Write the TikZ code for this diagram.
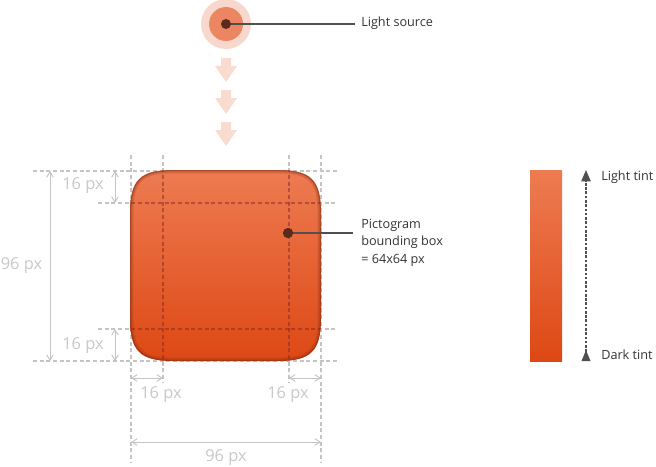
\documentclass[tikz,border=0pt]{standalone}
\usepackage{fontspec}
\setmainfont{Open Sans}
\usetikzlibrary{arrows.meta}
\definecolor{guide}{HTML}{C4C4C4}
\definecolor{dimtext}{HTML}{C8C8C8}
\definecolor{labtext}{HTML}{333333}
\definecolor{leader}{HTML}{505050}
\definecolor{pinkpale}{HTML}{F8D7CC}
\definecolor{pinkarrow}{HTML}{F9DBD0}
\definecolor{srcorange}{HTML}{EC8561}
\definecolor{dotbrown}{HTML}{5A2A1C}
\definecolor{lighttint}{HTML}{EE7B52}
\definecolor{darktint}{HTML}{DD4814}
\definecolor{edgebrown}{HTML}{7A2A10}
\definecolor{innerline}{HTML}{7E2A2A}
\begin{document}
\begin{tikzpicture}[x=0.75pt,y=-0.75pt,
  guideline/.style={draw=guide,line width=0.9pt,dash pattern=on 3pt off 2pt},
  innerguide/.style={draw=innerline,line width=0.9pt,dash pattern=on 3pt off 2pt,opacity=0.5},
  dimline/.style={draw=guide,line width=0.7pt,{Straight Barb[length=4pt,width=5pt]}-{Straight Barb[length=4pt,width=5pt]}},
  dimlabel/.style={text=dimtext,font=\fontsize{12.3}{14}\selectfont,inner sep=0pt},
  label/.style={text=labtext,font=\fontsize{9.5}{13}\selectfont,inner sep=0pt,align=left},
  leaderline/.style={draw=leader,line width=1.1pt},
  dot/.style={circle,fill=dotbrown,minimum size=7.5pt,inner sep=0pt},
  downarrow/.style={fill=pinkarrow}
]
\useasboundingbox (0,0) rectangle (656,467);
\def\iconpath{(173,170) -- (278,170) .. controls (311,170) and (321,180) .. (321,213) -- (321,318) .. controls (321,351) and (311,361) .. (278,361) -- (173,361) .. controls (140,361) and (130,351) .. (130,318) -- (130,213) .. controls (130,180) and (140,170) .. (173,170) -- cycle}

% guide lines
\draw[guideline] (33,171) -- (337,171);
\draw[guideline] (98,203) -- (337,203);
\draw[guideline] (98,329) -- (337,329);
\draw[guideline] (33,361) -- (337,361);
\draw[guideline] (131,155) -- (131,463);
\draw[guideline] (163,155) -- (163,382);
\draw[guideline] (289,155) -- (289,382);
\draw[guideline] (321,155) -- (321,463);

% icon
\shade[top color=lighttint,bottom color=darktint] \iconpath;
\begin{scope}
  \clip \iconpath;
  \draw[edgebrown,line width=5pt,opacity=0.22] \iconpath;
  \draw[edgebrown,line width=2pt,opacity=0.45] \iconpath;
  \draw[innerguide] (98,203) -- (337,203);
  \draw[innerguide] (98,329) -- (337,329);
  \draw[innerguide] (163,155) -- (163,382);
  \draw[innerguide] (289,155) -- (289,382);
\end{scope}

% dimensions
\coordinate (vt) at (50,171); \coordinate (vb) at (50,361);
\draw[dimline] (vt) -- (vb);
\node[dimlabel,anchor=west] (l96v) at (0.5,266) {96 px};
\coordinate (t1) at (115,171); \coordinate (t2) at (115,203);
\draw[dimline] (t1) -- (t2);
\node[dimlabel] (l16t) at (83,186) {16 px};
\coordinate (b1) at (115,329); \coordinate (b2) at (115,361);
\draw[dimline] (b1) -- (b2);
\node[dimlabel] (l16b) at (83,346) {16 px};
\coordinate (h1) at (131,378); \coordinate (h2) at (163,378);
\draw[dimline] (h1) -- (h2);
\node[dimlabel] (l16l) at (161,395) {16 px};
\coordinate (h3) at (289,378); \coordinate (h4) at (321,378);
\draw[dimline] (h3) -- (h4);
\node[dimlabel] (l16r) at (288,395) {16 px};
\coordinate (w1) at (131,442); \coordinate (w2) at (321,442);
\draw[dimline] (w1) -- (w2);
\node[dimlabel] (l96h) at (226,458) {96 px};

% light source
\node[circle,fill=pinkpale,minimum size=37.5pt,inner sep=0pt] (halo) at (226,24) {};
\node[circle,fill=srcorange,minimum size=25.5pt,inner sep=0pt] (src) at (226,24) {};
\node[label,anchor=west] (lsrc) at (361,23) {Light source};
\draw[leaderline] (src.center) -- (355,24);
\node[dot] (srcdot) at (226,24) {};

% down arrows
\foreach \y in {58,90,122}
  \fill[downarrow] (221,\y) -- (231,\y) -- (231,\y+8) -- (237,\y+8) -- (226,\y+24) -- (215,\y+8) -- (221,\y+8) -- cycle;

% pictogram label
\coordinate (pbend) at (353,233);
\node[label,anchor=north west] (plab) at (361,219) {Pictogram\\bounding box\\= 64x64 px};
\node[dot] (pdot) at (288,233) {};
\draw[leaderline] (pdot.center) -- (pbend);
\node[dot] at (288,233) {};

% tint bar
\shade[top color=lighttint,bottom color=darktint] (530,170) rectangle (562,361);
\coordinate (tb) at (586,361); \coordinate (tt) at (586,170);
\draw[draw=leader,line width=1pt,dash pattern=on 2pt off 1.2pt,-{Triangle[length=8.5pt,width=7pt]}] (586,352) -- (tt);
\fill[leader] (586,350) -- (590.5,361) -- (581.5,361) -- cycle;
\node[label,anchor=west] (light) at (601,177) {Light tint};
\node[label,anchor=west] (dark) at (601,355) {Dark tint};
\end{tikzpicture}
\end{document}
